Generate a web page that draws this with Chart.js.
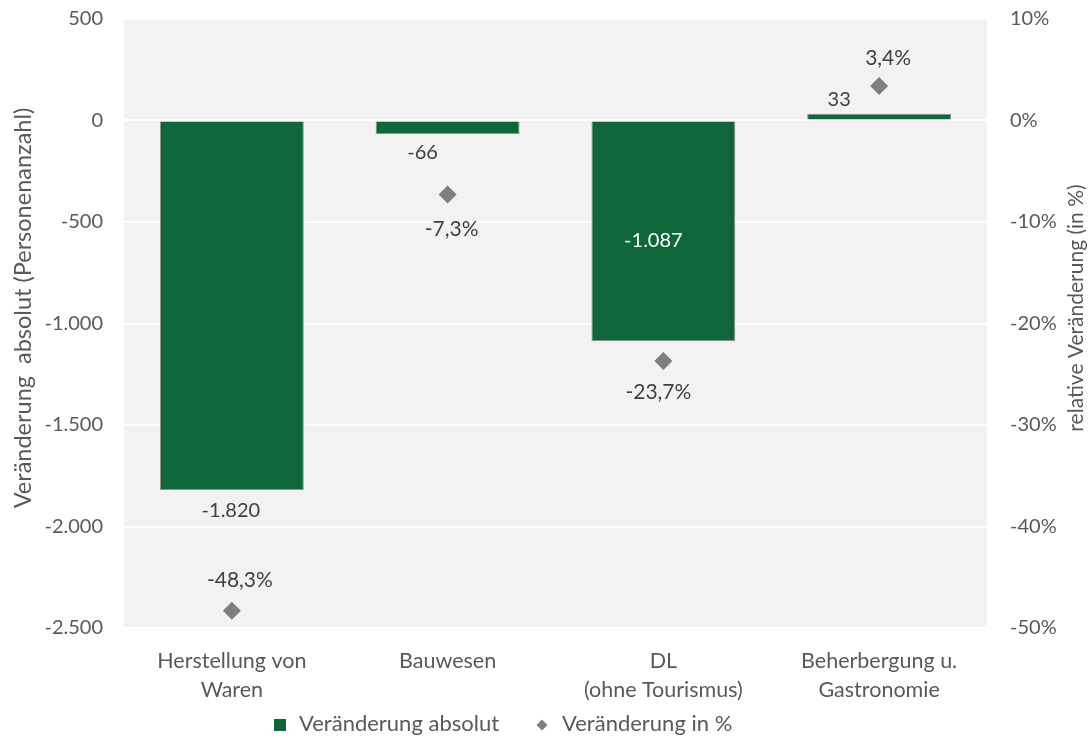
<!DOCTYPE html>
<html><head><meta charset="utf-8">
<script src="https://cdn.jsdelivr.net/npm/chart.js@4.4.0/dist/chart.umd.min.js"></script>
<style>html,body{margin:0;padding:0;background:#fff;} #wrap{width:1091px;height:740px;position:relative;}</style>
</head><body><div id="wrap"><canvas id="c" width="1091" height="740"></canvas></div>
<script>
const categories = [['Herstellung von','Waren'], ['Bauwesen'], ['DL','(ohne Tourismus)'], ['Beherbergung u.','Gastronomie']];
const absoluteValues = [-1820, -66, -1087, 33];
const percentValues = [-48.3, -7.3, -23.7, 3.4];
const leftTicks = [500, 0, -500, -1000, -1500, -2000, -2500];
const rightTicks = [10, 0, -10, -20, -30, -40, -50];
const seriesNames = ['Veränderung absolut', 'Veränderung in %'];
const axisTitles = ['Veränderung  absolut (Personenanzahl)', 'relative Veränderung (in %)'];

// label placement styling (offsets relative to the drawn elements)
const barLabelStyle = [
  {anchor:'end', dx:-1, dy:21, color:'#404040'},
  {anchor:'end', dx:-25, dy:19, color:'#404040'},
  {anchor:'center', dx:-10, dy:9, color:'#ffffff'},
  {anchor:'end', dx:-40, dy:-14, color:'#404040'}
];
const pctLabelStyle = [
  {dx:8, dy:-31}, {dx:4, dy:35}, {dx:-5, dy:31}, {dx:9, dy:-28}
];

const GREEN = '#0f6639';
const GREY = '#7f7f7f';
const TEXT = '#595959';
const FONT = 'Lato, "Open Sans", sans-serif';
const fmtAbs = v => v.toLocaleString('de-DE');
const fmtPct = v => v.toLocaleString('de-DE', {minimumFractionDigits:1, maximumFractionDigits:1}) + '%';

const bgPlugin = {
  id: 'plotBg',
  beforeDraw(chart) {
    const {ctx, chartArea:a} = chart;
    ctx.save();
    ctx.fillStyle = '#f2f2f2';
    ctx.fillRect(a.left, a.top, a.right - a.left, a.bottom - a.top);
    ctx.restore();
  }
};

const labelPlugin = {
  id: 'valueLabels',
  afterDatasetsDraw(chart) {
    const ctx = chart.ctx;
    ctx.save();
    ctx.textAlign = 'center';
    ctx.textBaseline = 'middle';
    ctx.font = '20px ' + FONT;
    chart.getDatasetMeta(0).data.forEach((el, i) => {
      const s = barLabelStyle[i];
      const y = s.anchor === 'center' ? (el.y + el.base) / 2 + s.dy : el.y + s.dy;
      ctx.fillStyle = s.color;
      ctx.fillText(fmtAbs(absoluteValues[i]), el.x + s.dx, y);
    });
    ctx.font = '21px ' + FONT;
    ctx.fillStyle = '#404040';
    chart.getDatasetMeta(1).data.forEach((el, i) => {
      const s = pctLabelStyle[i];
      ctx.fillText(fmtPct(percentValues[i]), el.x + s.dx, el.y + s.dy);
    });
    ctx.restore();
  }
};

const titlesAndLegendPlugin = {
  id: 'titlesLegend',
  afterDraw(chart) {
    const ctx = chart.ctx;
    ctx.save();
    // axis titles (both read bottom-to-top)
    ctx.fillStyle = TEXT;
    ctx.textAlign = 'center';
    ctx.textBaseline = 'middle';
    ctx.font = '23.5px ' + FONT;
    ctx.save();
    ctx.translate(chart.scales.y.left + 23, 308);
    ctx.rotate(-Math.PI / 2);
    ctx.fillText(axisTitles[0], 0, 0);
    ctx.restore();
    ctx.font = '21px ' + FONT;
    ctx.save();
    ctx.translate(chart.scales.y2.right - 15, 308);
    ctx.rotate(-Math.PI / 2);
    ctx.fillText(axisTitles[1], 0, 0);
    ctx.restore();
    // legend
    const cy = 724;
    ctx.font = '22px ' + FONT;
    ctx.textAlign = 'left';
    ctx.fillStyle = GREEN;
    ctx.fillRect(274, cy - 5, 12, 12);
    ctx.fillStyle = TEXT;
    ctx.fillText(seriesNames[0], 299, cy);
    ctx.fillStyle = GREY;
    ctx.beginPath();
    ctx.moveTo(542, cy - 4.5); ctx.lineTo(547.5, cy + 1); ctx.lineTo(542, cy + 6.5); ctx.lineTo(536.5, cy + 1);
    ctx.closePath(); ctx.fill();
    ctx.fillStyle = TEXT;
    ctx.fillText(seriesNames[1], 562, cy);
    ctx.restore();
  }
};

new Chart(document.getElementById('c'), {
  data: {
    labels: categories,
    datasets: [
      {
        type: 'bar', label: seriesNames[0], data: absoluteValues, yAxisID: 'y',
        backgroundColor: GREEN, borderColor: '#8f8f8f', borderWidth: 1,
        categoryPercentage: 1.0, barPercentage: 0.667, order: 2
      },
      {
        type: 'line', label: seriesNames[1], data: percentValues, yAxisID: 'y2',
        showLine: false, pointStyle: 'rectRot', pointRadius: 9, pointHoverRadius: 9,
        backgroundColor: GREY, borderColor: GREY, pointBorderWidth: 0, order: 1
      }
    ]
  },
  options: {
    responsive: false,
    animation: false,
    devicePixelRatio: 1,
    layout: { padding: { top: 19, left: 0, right: 0, bottom: 0 } },
    plugins: { legend: { display: false }, tooltip: { enabled: false } },
    scales: {
      x: {
        grid: { display: false, drawTicks: false }, border: { display: false },
        ticks: { color: TEXT, font: { family: FONT, size: 21.5, lineHeight: 1.35 }, padding: 19, maxRotation: 0, autoSkip: false },
        afterFit: s => { s.height = 112; s.paddingLeft = 0; s.paddingRight = 0; }
      },
      y: {
        position: 'left', min: -2500, max: 500,
        grid: { color: '#ffffff', lineWidth: 2, drawTicks: false }, border: { display: false },
        ticks: { color: TEXT, font: { family: FONT, size: 20 }, padding: 21, callback: v => fmtAbs(v) },
        afterBuildTicks: s => { s.ticks = leftTicks.map(v => ({ value: v })); },
        title: { display: false, text: axisTitles[0] },
        afterFit: s => { s.width = 124; s.paddingTop = 0; s.paddingBottom = 0; }
      },
      y2: {
        position: 'right', min: -50, max: 10,
        grid: { display: false, drawTicks: false }, border: { display: false },
        ticks: { color: TEXT, font: { family: FONT, size: 20 }, padding: 23, callback: v => v + '%' },
        afterBuildTicks: s => { s.ticks = rightTicks.map(v => ({ value: v })); },
        title: { display: false, text: axisTitles[1] },
        afterFit: s => { s.width = 104; s.paddingTop = 0; s.paddingBottom = 0; }
      }
    }
  },
  plugins: [bgPlugin, labelPlugin, titlesAndLegendPlugin]
});
</script>
</body></html>
